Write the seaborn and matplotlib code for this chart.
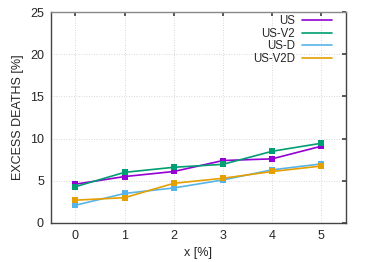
import matplotlib
matplotlib.use("Agg")
import matplotlib.pyplot as plt
from matplotlib.lines import Line2D
import seaborn as sns
import pandas as pd

# Data
x_vals = [0, 1, 2, 3, 4, 5]
us = [4.6, 5.5, 6.1, 7.4, 7.6, 9.1]
us_v2 = [4.3, 6.0, 6.6, 6.95, 8.5, 9.45]
us_d = [2.1, 3.5, 4.15, 5.1, 6.3, 7.0]
us_v2d = [2.7, 3.0, 4.7, 5.3, 6.1, 6.75]
series_names = ["US", "US-V2", "US-D", "US-V2D"]
colors = ["#9400d3", "#009e73", "#56b4e9", "#e69f00"]

sns.set_theme(style="white")
plt.rcParams["font.family"] = ["Liberation Sans", "DejaVu Sans"]

rows = []
for name, vals in zip(series_names, [us, us_v2, us_d, us_v2d]):
    for xv, yv in zip(x_vals, vals):
        rows.append({"x": xv, "y": yv, "series": name})
df = pd.DataFrame(rows)

fig = plt.figure(figsize=(3.74, 2.62), dpi=100)
ax = fig.add_axes([0.136, 0.149, 0.789, 0.805])

sns.lineplot(
    data=df, x="x", y="y", hue="series", hue_order=series_names,
    palette=colors, marker="s", markersize=4, markeredgewidth=0,
    linewidth=1.2, legend=False, ax=ax,
)

ax.set_xlim(-0.5, 5.5)
ax.set_ylim(0, 25)
ax.set_xticks(x_vals)
ax.set_yticks([0, 5, 10, 15, 20, 25])
ax.tick_params(axis="both", direction="in", length=3, labelsize=9,
               top=True, right=True, color="#444444", pad=5)
ax.grid(True, color="#cccccc", linestyle=(0, (1, 2)), linewidth=0.6)
for sp in ax.spines.values():
    sp.set_color("#444444")
    sp.set_linewidth(1.0)
ax.spines["top"].set_color("#888888")
ax.set_xlabel("x [%]", fontsize=9)
ax.set_ylabel("EXCESS DEATHS [%]", fontsize=9)

# markerfirst=False right-aligns the labels against the line samples
handles = [Line2D([0], [0], color=c, linewidth=1.2) for c in colors]
ax.legend(handles, series_names, loc="upper right",
          bbox_to_anchor=(0.955, 0.99), frameon=False,
          markerfirst=False, fontsize=8.3, handlelength=2.6,
          labelspacing=0.05, borderaxespad=0, handletextpad=0.6,
          borderpad=0.1)

fig.savefig("out.png", dpi=100)
